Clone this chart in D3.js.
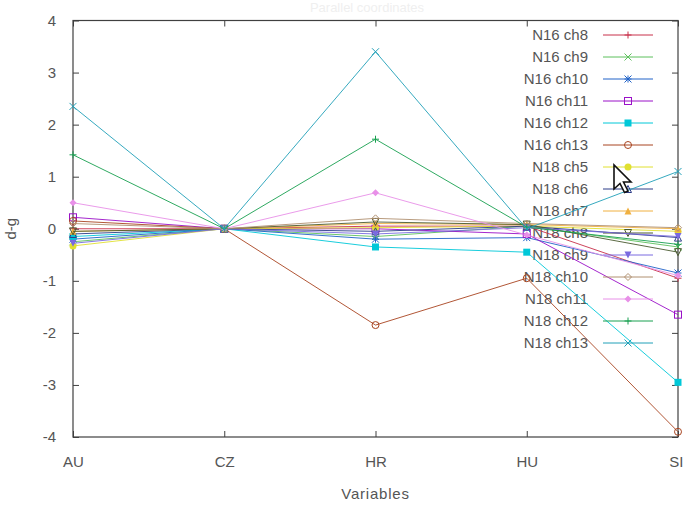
<!DOCTYPE html>
<html>
<head>
<meta charset="utf-8">
<script src="https://cdn.jsdelivr.net/npm/d3@7"></script>
<style>
  html, body { margin: 0; padding: 0; background: #fff; }
  svg { display: block; }
  text { font-family: "Liberation Sans", Arial, sans-serif; }
</style>
</head>
<body>
<svg id="chart" width="685" height="505"></svg>
<script>
// Variables along the x axis
const variables = ["AU", "CZ", "HR", "HU", "SI"];

// Series names (legend order)
const seriesNames = [
  "N16 ch8", "N16 ch9", "N16 ch10", "N16 ch11", "N16 ch12", "N16 ch13",
  "N18 ch5", "N18 ch6", "N18 ch7", "N18 ch8", "N18 ch9", "N18 ch10",
  "N18 ch11", "N18 ch12", "N18 ch13"
];

// d-g values per series, one per variable (AU, CZ, HR, HU, SI)
const n16ch8  = [0.00, 0, 0.05, 0.05, -0.95];
const n16ch9  = [-0.25, 0, -0.15, 0.05, -0.35];
const n16ch10 = [-0.20, 0, -0.20, -0.17, -0.85];
const n16ch11 = [0.22, 0, 0.00, -0.10, -1.65];
const n16ch12 = [-0.15, 0, -0.35, -0.45, -2.95];
const n16ch13 = [0.15, 0, -1.85, -0.95, -3.90];
const n18ch5  = [-0.33, 0, 0.02, 0.05, -0.05];
const n18ch6  = [-0.10, 0, -0.05, 0.05, -0.17];
const n18ch7  = [-0.05, 0, 0.10, 0.08, 0.00];
const n18ch8  = [-0.05, 0, 0.13, 0.08, -0.45];
const n18ch9  = [-0.28, 0, -0.10, 0.02, -0.15];
const n18ch10 = [0.10, 0, 0.20, 0.10, 0.02];
const n18ch11 = [0.50, 0, 0.69, -0.12, -0.90];
const n18ch12 = [1.42, 0, 1.72, 0.03, -0.30];
const n18ch13 = [2.35, 0, 3.40, 0.00, 1.10];

const seriesValues = [
  n16ch8, n16ch9, n16ch10, n16ch11, n16ch12, n16ch13,
  n18ch5, n18ch6, n18ch7, n18ch8, n18ch9, n18ch10,
  n18ch11, n18ch12, n18ch13
];

// Y ticks
const yTicks = [-4, -3, -2, -1, 0, 1, 2, 3, 4];

// Line colours and point symbols, in series order
const colors = [
  "#c8304a", "#5cc05c", "#2062c8", "#9a10c8", "#00c8d8", "#a84420",
  "#e0e030", "#2c3c88", "#f0b040", "#4a5a30", "#7a6ae0", "#b09070",
  "#e890e8", "#18a050", "#20a0b8"
];
const symbols = [
  "plus", "cross", "star", "square", "squareFill", "circle",
  "circleFill", "triUp", "triUpFill", "triDown", "triDownFill", "diamond",
  "diamondFill", "plus", "cross"
];

const svg = d3.select("#chart");
const margin = { left: 73, right: 7, top: 20.5, bottom: 68 };
const W = 685, H = 505;
const fontSize = 15;

const x = d3.scalePoint().domain(variables).range([margin.left, W - margin.right]);
const y = d3.scaleLinear().domain([-4, 4]).range([H - margin.bottom, margin.top]);

const axisColor = "#404040";
const labelColor = "#555";

// Faint title at the top
svg.append("text")
  .attr("x", 367).attr("y", 12)
  .attr("text-anchor", "middle")
  .attr("font-size", 13)
  .attr("fill", "#efefef")
  .text("Parallel coordinates");

// Left axis with inward ticks
const yAxisL = d3.axisLeft(y).tickValues(yTicks).tickFormat(d => String(d))
  .tickSizeInner(-6).tickSizeOuter(0).tickPadding(17);
const gL = svg.append("g").attr("transform", `translate(${margin.left},0)`).call(yAxisL);
// Right axis ticks (mirrored)
const yAxisR = d3.axisRight(y).tickValues(yTicks).tickSizeInner(-6).tickSizeOuter(0).tickFormat("");
const gR = svg.append("g").attr("transform", `translate(${W - margin.right},0)`).call(yAxisR);
// Bottom axis with inward ticks
const xAxisB = d3.axisBottom(x).tickSizeInner(-6).tickSizeOuter(0).tickPadding(19);
const gB = svg.append("g").attr("transform", `translate(0,${H - margin.bottom})`).call(xAxisB);
// Top axis ticks (mirrored)
const xAxisT = d3.axisTop(x).tickSizeInner(-6).tickSizeOuter(0).tickFormat("");
const gT = svg.append("g").attr("transform", `translate(0,${margin.top})`).call(xAxisT);

[gL, gR, gB, gT].forEach(g => {
  g.select(".domain").remove();
  g.selectAll(".tick line").attr("stroke", axisColor);
  g.selectAll(".tick text").attr("fill", labelColor).attr("font-size", fontSize)
    .attr("font-family", "'Liberation Sans', Arial, sans-serif");
});
// Rightmost label sits inside the window edge
gB.selectAll(".tick text").filter(d => d === "SI").attr("text-anchor", "end").attr("dx", 5);

// Plot border
svg.append("rect")
  .attr("x", margin.left).attr("y", margin.top)
  .attr("width", W - margin.right - margin.left)
  .attr("height", H - margin.bottom - margin.top)
  .attr("fill", "none").attr("stroke", axisColor).attr("stroke-width", 1.2);

// Axis titles
svg.append("text")
  .attr("x", (margin.left + W - margin.right) / 2).attr("y", 499)
  .attr("text-anchor", "middle").attr("font-size", fontSize).attr("fill", labelColor)
  .attr("letter-spacing", 0.8)
  .text("Variables");
svg.append("text")
  .attr("transform", `translate(16,${y(0)}) rotate(-90)`)
  .attr("text-anchor", "middle").attr("font-size", fontSize).attr("fill", labelColor)
  .text("d-g");

// Point symbol drawing
function drawSymbol(g, type, cx, cy, color) {
  const s = 3.5;
  const p = g.append("g").attr("transform", `translate(${cx},${cy})`);
  const stroke = { stroke: color, "stroke-width": 1, fill: "none" };
  const apply = (el, attrs) => { for (const k in attrs) el.attr(k, attrs[k]); return el; };
  switch (type) {
    case "plus":
      apply(p.append("path").attr("d", `M${-s},0H${s}M0,${-s}V${s}`), stroke); break;
    case "cross":
      apply(p.append("path").attr("d", `M${-s},${-s}L${s},${s}M${-s},${s}L${s},${-s}`), stroke); break;
    case "star":
      apply(p.append("path").attr("d", `M${-s},0H${s}M0,${-s}V${s}M${-s},${-s}L${s},${s}M${-s},${s}L${s},${-s}`), stroke); break;
    case "square":
      apply(p.append("rect").attr("x", -s).attr("y", -s).attr("width", 2 * s).attr("height", 2 * s), stroke); break;
    case "squareFill":
      p.append("rect").attr("x", -s).attr("y", -s).attr("width", 2 * s).attr("height", 2 * s).attr("fill", color); break;
    case "circle":
      apply(p.append("circle").attr("r", s), stroke); break;
    case "circleFill":
      p.append("circle").attr("r", s).attr("fill", color); break;
    case "triUp":
      apply(p.append("path").attr("d", `M0,${-s}L${s},${s}L${-s},${s}Z`), stroke); break;
    case "triUpFill":
      p.append("path").attr("d", `M0,${-s}L${s},${s}L${-s},${s}Z`).attr("fill", color); break;
    case "triDown":
      apply(p.append("path").attr("d", `M0,${s}L${s},${-s}L${-s},${-s}Z`), stroke); break;
    case "triDownFill":
      p.append("path").attr("d", `M0,${s}L${s},${-s}L${-s},${-s}Z`).attr("fill", color); break;
    case "diamond":
      apply(p.append("path").attr("d", `M0,${-s}L${s},0L0,${s}L${-s},0Z`), stroke); break;
    case "diamondFill":
      p.append("path").attr("d", `M0,${-s}L${s},0L0,${s}L${-s},0Z`).attr("fill", color); break;
  }
}

// Legend text (right-aligned)
const legendTop = 35, legendStep = 22;
const legendTextX = 588, legendLineX0 = 603, legendLineX1 = 653;
const legend = svg.append("g");
seriesNames.forEach((name, i) => {
  legend.append("text")
    .attr("x", legendTextX).attr("y", legendTop + i * legendStep + 5)
    .attr("text-anchor", "end").attr("font-size", fontSize).attr("fill", labelColor)
    .text(name);
});

// Series lines with points, and their legend samples
const line = d3.line().x((d, i) => x(variables[i])).y(d => y(d));
const plot = svg.append("g");
seriesValues.forEach((vals, i) => {
  const c = colors[i];
  const g = plot.append("g");
  g.append("path").datum(vals).attr("d", line)
    .attr("fill", "none").attr("stroke", c).attr("stroke-width", 1).attr("stroke-opacity", 0.9);
  vals.forEach((v, j) => drawSymbol(g, symbols[i], x(variables[j]), y(v), c));
  const ly = legendTop + i * legendStep;
  g.append("line").attr("x1", legendLineX0).attr("x2", legendLineX1)
    .attr("y1", ly).attr("y2", ly).attr("stroke", c).attr("stroke-width", 1);
  drawSymbol(g, symbols[i], (legendLineX0 + legendLineX1) / 2, ly, c);
});

// Mouse pointer arrow over the key
const cursorPts = [[0,0],[0,24],[6,18.5],[10.5,27.5],[14,26],[9.5,17],[17,17]];
svg.append("path")
  .attr("transform", "translate(614,165)")
  .attr("d", "M" + cursorPts.map(p => p.join(",")).join("L") + "Z")
  .attr("fill", "#fff").attr("stroke", "#111").attr("stroke-width", 1.6)
  .attr("stroke-linejoin", "miter");
</script>
</body>
</html>
